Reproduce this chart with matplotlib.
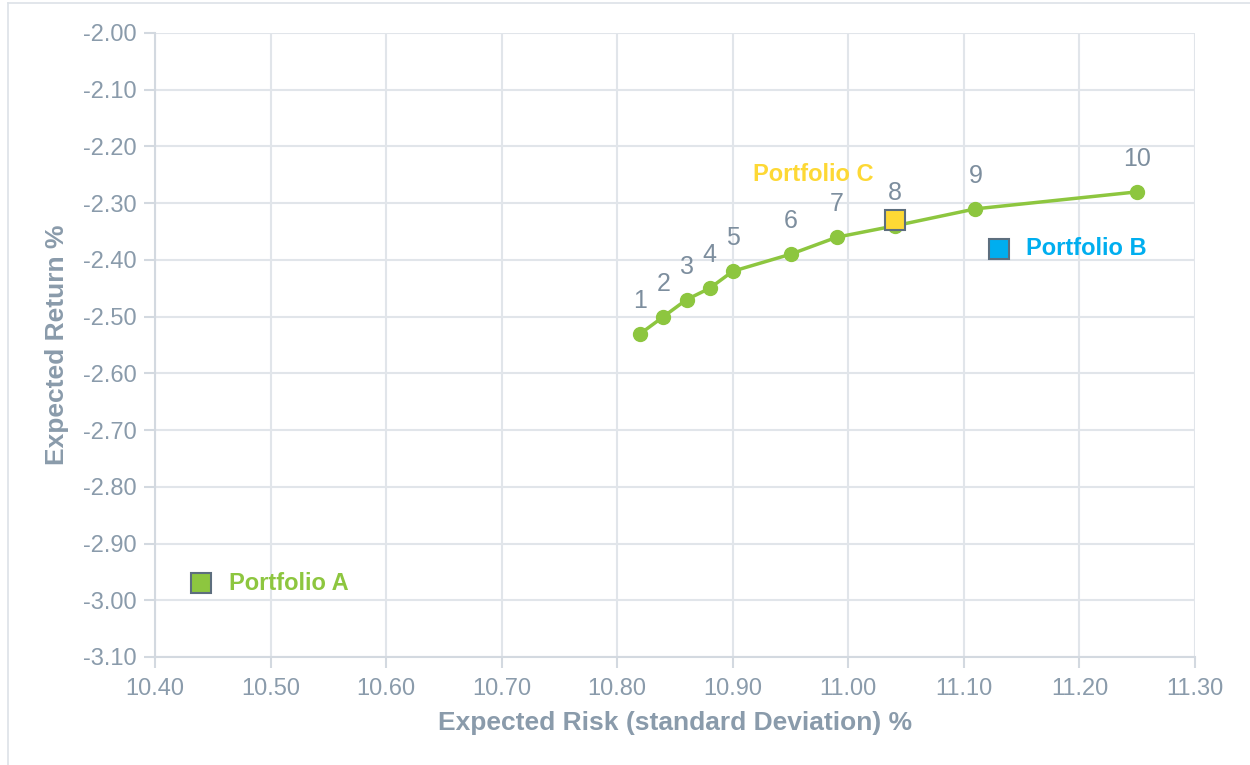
import matplotlib
matplotlib.use("Agg")
import matplotlib.pyplot as plt
from matplotlib.lines import Line2D

plt.rcParams['font.family'] = ['Liberation Sans', 'DejaVu Sans']

# Data
frontier_labels = ['1', '2', '3', '4', '5', '6', '7', '8', '9', '10']
frontier_risk = [10.82, 10.84, 10.86, 10.88, 10.90, 10.95, 10.99, 11.04, 11.11, 11.25]
frontier_return = [-2.53, -2.50, -2.47, -2.45, -2.42, -2.39, -2.36, -2.34, -2.31, -2.28]

portfolio_names = ['Portfolio A', 'Portfolio B', 'Portfolio C']
portfolio_risk = [10.44, 11.13, 11.04]
portfolio_return = [-2.97, -2.38, -2.33]
portfolio_colors = ['#8dc63f', '#00aeef', '#fdd835']

x_ticks = [10.40, 10.50, 10.60, 10.70, 10.80, 10.90, 11.00, 11.10, 11.20, 11.30]
y_ticks = [-3.10, -3.00, -2.90, -2.80, -2.70, -2.60, -2.50, -2.40, -2.30, -2.20, -2.10, -2.00]

text_color = '#8a9bab'
grid_color = '#e1e5ea'
spine_color = '#d3d9e0'
green = '#8dc63f'

fig = plt.figure(figsize=(12.5, 7.65), dpi=100)
ax = fig.add_axes([155/1250, 1 - 657/765, (1195-155)/1250, (657-33)/765])

# outer border
fig.add_artist(Line2D([8/1250, 8/1250], [0, 1 - 3/765], transform=fig.transFigure,
                      color='#dde2e7', lw=1.2))
fig.add_artist(Line2D([8/1250, 1], [1 - 3/765, 1 - 3/765], transform=fig.transFigure,
                      color='#dde2e7', lw=1.2))

ax.plot(frontier_risk, frontier_return, color=green, lw=2.5, marker='o', ms=10,
        markerfacecolor=green, markeredgecolor=green, zorder=3)
for lab, xv, yv in zip(frontier_labels, frontier_risk, frontier_return):
    ax.annotate(lab, (xv, yv), xytext=(0, 15), textcoords='offset points',
                ha='center', va='bottom', fontsize=18, color='#7d8e9e')

# Portfolio squares
for name, xv, yv, c in zip(portfolio_names, portfolio_risk, portfolio_return, portfolio_colors):
    ax.plot([xv], [yv], marker='s', ms=15, markerfacecolor=c, markeredgecolor='#5d6e7e',
            markeredgewidth=1.5, linestyle='none', zorder=5)

# Portfolio labels
ax.annotate(portfolio_names[0], (portfolio_risk[0], portfolio_return[0]), xytext=(20, 0),
            textcoords='offset points', ha='left', va='center', fontsize=17,
            fontweight='bold', color=portfolio_colors[0])
ax.annotate(portfolio_names[1], (portfolio_risk[1], portfolio_return[1]), xytext=(20, 0),
            textcoords='offset points', ha='left', va='center', fontsize=17,
            fontweight='bold', color=portfolio_colors[1])
ax.annotate(portfolio_names[2], (portfolio_risk[2], portfolio_return[2]), xytext=(-15, 33),
            textcoords='offset points', ha='right', va='center', fontsize=17,
            fontweight='bold', color=portfolio_colors[2])

ax.set_xlim(10.40, 11.30)
ax.set_ylim(-3.10, -2.00)
ax.set_xticks(x_ticks)
ax.set_yticks(y_ticks)
ax.set_xticklabels([f'{v:.2f}' for v in x_ticks])
ax.set_yticklabels([f'{v:.2f}' for v in y_ticks])
ax.grid(True, color=grid_color, lw=1.5)
ax.set_axisbelow(True)
for s in ['top', 'right']:
    ax.spines[s].set_visible(False)
for s in ['left', 'bottom']:
    ax.spines[s].set_color(spine_color)
    ax.spines[s].set_linewidth(1.5)
ax.tick_params(axis='both', colors=spine_color, labelcolor=text_color, labelsize=17,
               length=8, width=1.5)
ax.tick_params(axis='x', pad=7)
ax.tick_params(axis='y', pad=5)

ax.set_xlabel('Expected Risk (standard Deviation) %', fontsize=19, fontweight='bold',
              color=text_color, labelpad=8)
ax.set_ylabel('Expected Return %', fontsize=19, fontweight='bold', color=text_color,
              labelpad=10)

fig.savefig('out.png', dpi=100, facecolor='white')
